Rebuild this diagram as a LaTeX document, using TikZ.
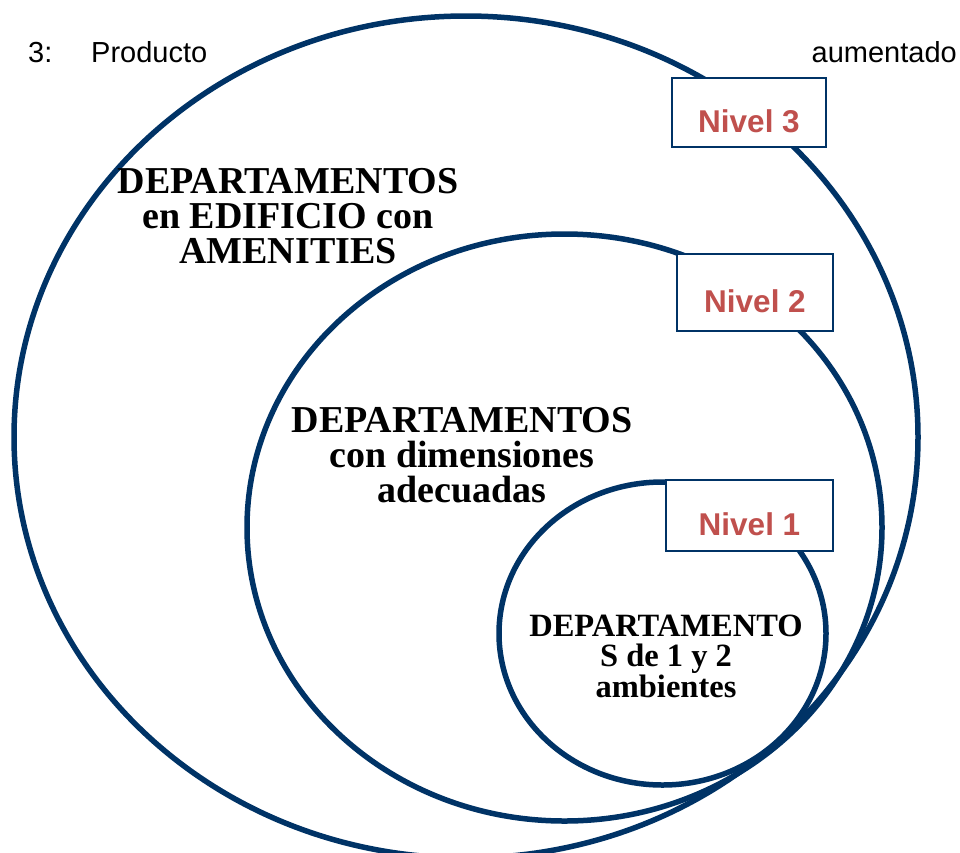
\documentclass[tikz,border=0pt]{standalone}
\usepackage{fontspec}
\setmainfont{Liberation Sans}
\newfontfamily\timesfont{Liberation Serif}
\usepackage{tikz}
\usetikzlibrary{shapes.geometric}
\definecolor{navy}{RGB}{0,51,102}
\definecolor{brick}{RGB}{192,80,77}

\begin{document}
\begin{tikzpicture}
  [
    x=1pt, y=-1pt,
    ring/.style =
      {draw=navy, ellipse, line width=5.5pt, inner sep=0pt},
    level/.style =
      {draw=navy, fill=white, rectangle, line width=2pt, inner sep=0pt,
       text=brick, font=\fontsize{31.5}{31.5}\selectfont\bfseries,
       text height=39pt, text depth=0pt},
    caption/.style =
      {align=center, inner sep=0pt,
       font=\timesfont\bfseries\fontsize{38}{35}\selectfont},
    small caption/.style =
      {caption, font=\timesfont\bfseries\fontsize{32.5}{30.5}\selectfont},
    heading/.style =
      {inner sep=0pt, font=\fontsize{29}{29}\selectfont}
  ]
  \useasboundingbox (0,0) rectangle (960,852);

  \node [ring, minimum width=904pt, minimum height=842pt] at (466,437)   (r3) {};
  \node [ring, minimum width=635pt, minimum height=587pt] at (564.5,527.5) (r2) {};
  \node [ring, minimum width=327pt, minimum height=303pt] at (662.5,633.5) (r1) {};

  \node [level, minimum width=154pt, minimum height=69pt] at (749,112.5)   (n3) {Nivel 3};
  \node [level, minimum width=156pt, minimum height=77pt] at (755,292.5)   (n2) {Nivel 2};
  \node [level, minimum width=167pt, minimum height=71pt] at (749.5,515.5) (n1) {Nivel 1};

  \node [caption]       at (288,216) (t3) {DEPARTAMENTOS\\en EDIFICIO con\\AMENITIES};
  \node [caption]       at (462,455) (t2) {DEPARTAMENTOS\\con dimensiones\\adecuadas};
  \node [small caption] at (666,656) (t1) {DEPARTAMENTO\\S de 1 y 2\\ambientes};

  \node [heading, anchor=base west] at ( 28,62) (h1) {3:};
  \node [heading, anchor=base west] at ( 91,62) (h2) {Producto};
  \node [heading, anchor=base east] at (957,62) (h3) {aumentado};

\end{tikzpicture}
\end{document}
